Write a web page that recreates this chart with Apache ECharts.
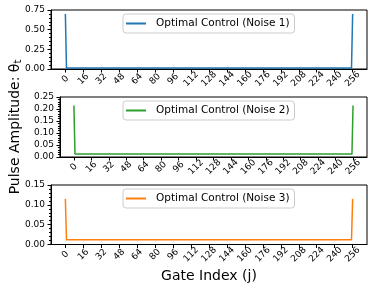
<!DOCTYPE html>
<html><head><meta charset="utf-8">
<script src="https://cdn.jsdelivr.net/npm/echarts@6/dist/echarts.min.js"></script>
<style>html,body{margin:0;padding:0;background:#fff}#c{width:374px;height:293px}</style>
</head><body><div id="c"></div>
<script>
const gateIndex = [0, 1, 255, 256];
const noise1 = [0.70, 0.012, 0.012, 0.70];
const noise2 = [0.215, 0.012, 0.012, 0.215];
const noise3 = [0.115, 0.012, 0.012, 0.115];
const xTicks = [0,16,32,48,64,80,96,112,128,144,160,176,192,208,224,240,256];
const yMax = [0.75, 0.25, 0.15];
const yStep = [0.25, 0.05, 0.05];
const names = ['Optimal Control (Noise 1)','Optimal Control (Noise 2)','Optimal Control (Noise 3)'];
const colors = ['#1f77b4','#2ca02c','#ff7f0e'];
const seriesVals = [noise1, noise2, noise3];

const font = 'DejaVu Sans';
const grids = [
  {left:51, right:7, top:10, height:59},
  {left:51, right:7, top:97, height:60},
  {left:51, right:7, top:185, height:59.5}
];
const chart = echarts.init(document.getElementById('c'), null, {renderer:'canvas'});
const option = {
  backgroundColor:'#fff',
  animation:false,
  grid: grids.map(g => Object.assign({show:true, borderColor:'#000', borderWidth:1, backgroundColor:'transparent'}, g)),
  xAxis: [0,1,2].map(i => ({
    type:'value', gridIndex:i, min:-12.8, max:268.8,
    axisLine:{show:true, onZero:false, lineStyle:{color:'#000', width:1}},
    axisTick:{show:true, length:3.5, customValues:xTicks, lineStyle:{color:'#000'}},
    axisLabel:{customValues:xTicks, rotate:45, align:'center', verticalAlign:'middle', margin:10, fontSize:9, fontFamily:font, color:'#000'},
    splitLine:{show:false},
    name: i===2 ? 'Gate Index (j)' : '',
    nameLocation:'middle', nameGap:25,
    nameTextStyle:{fontSize:14, fontFamily:font, color:'#000'}
  })),
  yAxis: [0,1,2].map(i => ({
    type:'value', gridIndex:i, min:0, max:yMax[i], interval:yStep[i],
    axisLine:{show:true, onZero:false, lineStyle:{color:'#000', width:1}},
    axisTick:{show:true, length:3.5, lineStyle:{color:'#000'}},
    minorTick:{show:true, splitNumber:5, length:2, lineStyle:{color:'#000'}},
    axisLabel:{margin:6, fontSize:9, fontFamily:font, color:'#000', formatter:v=>v.toFixed(2)},
    splitLine:{show:false},
    name: i===1 ? '{a|Pulse Amplitude: θ}{b|t}' : '',
    nameLocation:'middle', nameGap:34, nameRotate:90,
    nameTextStyle:{fontSize:14, fontFamily:font, color:'#000',
      rich:{a:{fontSize:14, fontFamily:font, color:'#000'}, b:{fontSize:10, fontFamily:font, color:'#000', verticalAlign:'bottom', padding:[6,0,0,0]}}}
  })),
  legend: [0,1,2].map(i => ({
    data:[names[i]],
    left:123, top:grids[i].top+4,
    backgroundColor:'#fff', borderColor:'#ccc', borderWidth:1, borderRadius:3,
    padding:[4,5,4,3],
    itemWidth:20, itemHeight:2, icon:'rect',
    textStyle:{fontSize:10.5, fontFamily:font, color:'#000', padding:[0,0,0,5]}
  })),
  series: [0,1,2].map(i => ({
    type:'line', name:names[i], xAxisIndex:i, yAxisIndex:i,
    data: gateIndex.map((x,k)=>[x, seriesVals[i][k]]),
    showSymbol:false, symbol:'none',
    lineStyle:{color:colors[i], width:1.5}, itemStyle:{color:colors[i]}
  }))
};
chart.setOption(option);
</script></body></html>
